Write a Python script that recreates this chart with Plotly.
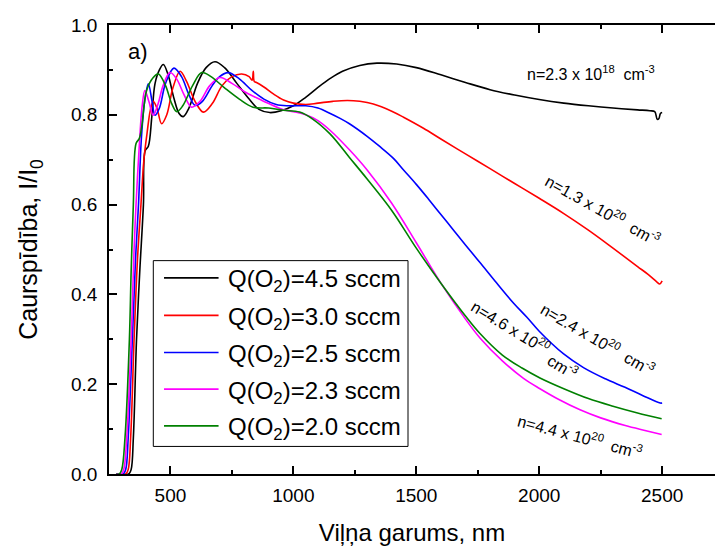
import plotly.graph_objects as go

# Transmittance spectra of films deposited at different O2 flows
wl_45 = [280, 330, 340, 349, 362, 375, 390, 397, 410, 424, 437, 455, 471, 490, 515, 535, 552, 575, 610, 645,
         681, 720, 770, 820, 860, 904, 950, 1000, 1050, 1100, 1150, 1200, 1270, 1340, 1420, 1500, 1600, 1700,
         1800, 1900, 2000, 2100, 2200, 2300, 2400, 2450, 2470, 2480, 2487, 2493, 2500]
t_45 = [0.0, 0.0, 0.01, 0.08, 0.3, 0.45, 0.6, 0.72, 0.73, 0.795, 0.869, 0.9, 0.912, 0.89, 0.835, 0.803,
        0.796, 0.815, 0.87, 0.905, 0.918, 0.905, 0.87, 0.835, 0.812, 0.805, 0.809, 0.82, 0.839, 0.861, 0.881,
        0.897, 0.91, 0.915, 0.913, 0.905, 0.889, 0.872, 0.856, 0.844, 0.834, 0.826, 0.82, 0.815, 0.811,
        0.809, 0.807, 0.79, 0.792, 0.803, 0.805]

wl_30 = [280, 318, 328, 338, 352, 366, 380, 392, 405, 418, 430, 445, 464, 485, 510, 539, 565, 600, 634, 670,
         710, 750, 790, 820, 832, 837, 841, 850, 880, 920, 960, 1000, 1050, 1100, 1160, 1220, 1270, 1325,
         1400, 1450, 1529, 1600, 1700, 1800, 1900, 2000, 2100, 2200, 2300, 2400, 2444, 2478, 2490, 2500]
t_30 = [0.0, 0.0, 0.01, 0.08, 0.3, 0.48, 0.6, 0.7, 0.76, 0.81, 0.83, 0.815, 0.78, 0.8, 0.86, 0.897, 0.875,
        0.83, 0.806, 0.825, 0.865, 0.885, 0.891, 0.885, 0.877, 0.897, 0.874, 0.872, 0.862, 0.846, 0.833,
        0.826, 0.823, 0.826, 0.83, 0.832, 0.83, 0.824, 0.808, 0.794, 0.77, 0.746, 0.713, 0.68, 0.647,
        0.614, 0.58, 0.543, 0.503, 0.462, 0.444, 0.428, 0.423, 0.43]

wl_25 = [280, 308, 318, 328, 345, 358, 370, 382, 395, 410, 425, 437, 455, 480, 514, 545, 575, 600, 630, 670,
         700, 735, 780, 830, 880, 930, 980, 1050, 1100, 1150, 1190, 1228, 1300, 1350, 1407, 1450, 1500, 1550,
         1600, 1650, 1700, 1759, 1820, 1895, 1950, 2000, 2098, 2180, 2269, 2349, 2420, 2492, 2500]
t_25 = [0.0, 0.0, 0.01, 0.08, 0.3, 0.48, 0.6, 0.75, 0.83, 0.869, 0.83, 0.799, 0.815, 0.87, 0.904, 0.885,
        0.845, 0.821, 0.83, 0.865, 0.885, 0.894, 0.88, 0.855, 0.835, 0.823, 0.82, 0.82, 0.815, 0.803, 0.792,
        0.78, 0.752, 0.73, 0.703, 0.676, 0.645, 0.612, 0.578, 0.544, 0.51, 0.471, 0.43, 0.381, 0.349, 0.318,
        0.268, 0.237, 0.212, 0.193, 0.175, 0.158, 0.158]

wl_23 = [280, 300, 310, 322, 340, 352, 360, 372, 385, 396, 412, 430, 450, 470, 498, 525, 555, 586, 620, 660,
         702, 750, 800, 850, 900, 957, 1000, 1050, 1100, 1150, 1228, 1300, 1400, 1500, 1600, 1700, 1759,
         1850, 1936, 2003, 2080, 2166, 2250, 2350, 2430, 2498]
t_23 = [0.0, 0.0, 0.01, 0.08, 0.3, 0.5, 0.6, 0.72, 0.82, 0.854, 0.83, 0.799, 0.825, 0.865, 0.894, 0.88,
        0.845, 0.817, 0.83, 0.865, 0.883, 0.87, 0.852, 0.838, 0.825, 0.812, 0.807, 0.8, 0.787, 0.765, 0.722,
        0.677, 0.603, 0.515, 0.425, 0.345, 0.303, 0.252, 0.213, 0.19, 0.166, 0.143, 0.125, 0.108, 0.097,
        0.088]

wl_20 = [280, 292, 302, 315, 333, 340, 349, 360, 373, 383, 403, 430, 451, 480, 505, 526, 550, 590, 627, 665,
         720, 780, 836, 900, 960, 1025, 1080, 1150, 1228, 1300, 1400, 1500, 1600, 1700, 1759, 1850, 1930,
         2003, 2100, 2200, 2300, 2400, 2498]
t_20 = [0.0, 0.0, 0.01, 0.08, 0.3, 0.45, 0.6, 0.736, 0.747, 0.773, 0.854, 0.883, 0.891, 0.865, 0.825,
        0.807, 0.82, 0.865, 0.894, 0.885, 0.86, 0.835, 0.817, 0.815, 0.81, 0.806, 0.79, 0.757, 0.705, 0.657,
        0.587, 0.503, 0.425, 0.352, 0.313, 0.265, 0.236, 0.214, 0.19, 0.168, 0.151, 0.136, 0.123]

labels = ["Q(O<sub>2</sub>)=4.5 sccm", "Q(O<sub>2</sub>)=3.0 sccm", "Q(O<sub>2</sub>)=2.5 sccm",
          "Q(O<sub>2</sub>)=2.3 sccm", "Q(O<sub>2</sub>)=2.0 sccm"]
colors = ["#000000", "#ff0000", "#0000ff", "#ff00ff", "#008000"]
xs = [wl_45, wl_30, wl_25, wl_23, wl_20]
ys = [t_45, t_30, t_25, t_23, t_20]

FONT = "Liberation Sans, Arial, sans-serif"

fig = go.Figure()
for name, x, y, color in zip(labels, xs, ys, colors):
    fig.add_trace(go.Scatter(x=x, y=y, mode="lines", name=name, showlegend=False,
                             line=dict(color=color, width=1.6, shape="spline", smoothing=1.0)))

# carrier concentration labels next to the curves
notes = [
    ("n=2.3 x 10<sup>18</sup>  cm<sup>-3</sup>", 2211, 0.892, 0),
    ("n=1.3 x 10<sup>20</sup>  cm<sup>-3</sup>", 2260, 0.588, 29),
    ("n=2.4 x 10<sup>20</sup>  cm<sup>-3</sup>", 2239, 0.301, 30),
    ("n=4.6 x 10<sup>20</sup>", 1885, 0.328, 31),
    ("cm<sup>-3</sup>", 2095, 0.240, 31),
    ("n=4.4 x 10<sup>20</sup>  cm<sup>-3</sup>", 2166, 0.084, 15),
]
annotations = [dict(text=t, x=x, y=y, xref="x", yref="y", showarrow=False, textangle=a,
                    font=dict(size=16, color="black", family=FONT)) for t, x, y, a in notes]
annotations.append(dict(text="a)", x=368, y=0.942, xref="x", yref="y", showarrow=False,
                        font=dict(size=22, color="black", family=FONT)))

# boxed key: sample line + label for each O2 flow
shapes = [dict(type="rect", xref="paper", yref="paper", x0=0.0731, x1=0.4934, y0=0.0614, y1=0.4752,
               line=dict(color="black", width=1), fillcolor="white", layer="above")]
row_y = [0.4368, 0.3532, 0.2705, 0.1891, 0.1071]
for lab, col, ry in zip(labels, colors, row_y):
    shapes.append(dict(type="line", xref="paper", yref="paper", x0=0.0908, x1=0.1808, y0=ry, y1=ry,
                       line=dict(color=col, width=1.6), layer="above"))
    annotations.append(dict(text=lab, xref="paper", yref="paper", x=0.1931, y=ry, xanchor="left",
                            yanchor="middle", yshift=-3, showarrow=False,
                            font=dict(size=24, color="black", family=FONT)))

axis_common = dict(showline=True, linecolor="black", linewidth=1.5, ticks="inside", ticklen=8,
                   tickwidth=1.5, tickcolor="black", showgrid=False, zeroline=False,
                   tickfont=dict(size=19, color="black", family=FONT))

fig.update_layout(
    width=715, height=546,
    margin=dict(l=109, r=0, t=25, b=70),
    paper_bgcolor="white", plot_bgcolor="white",
    font=dict(family=FONT, color="black"),
    showlegend=False,
    annotations=annotations,
    shapes=shapes,
    xaxis=dict(range=[250, 2715], dtick=500, tick0=0, mirror="ticks", ticklabelstandoff=3,
               minor=dict(dtick=250, ticks="inside", ticklen=4, tickcolor="black", tickwidth=1.5),
               title=dict(text="Viļņa garums, nm", font=dict(size=24, color="black", family=FONT),
                          standoff=24),
               **axis_common),
    yaxis=dict(range=[0, 1.0], dtick=0.2, tick0=0, tickformat=".1f", ticklabelstandoff=6,
               minor=dict(dtick=0.1, ticks="inside", ticklen=4, tickcolor="black", tickwidth=1.5),
               title=dict(text="Caurspīdība, I/I<sub>0</sub>", font=dict(size=25, color="black", family=FONT),
                          standoff=26),
               **axis_common),
)

fig.write_html("out.html")
